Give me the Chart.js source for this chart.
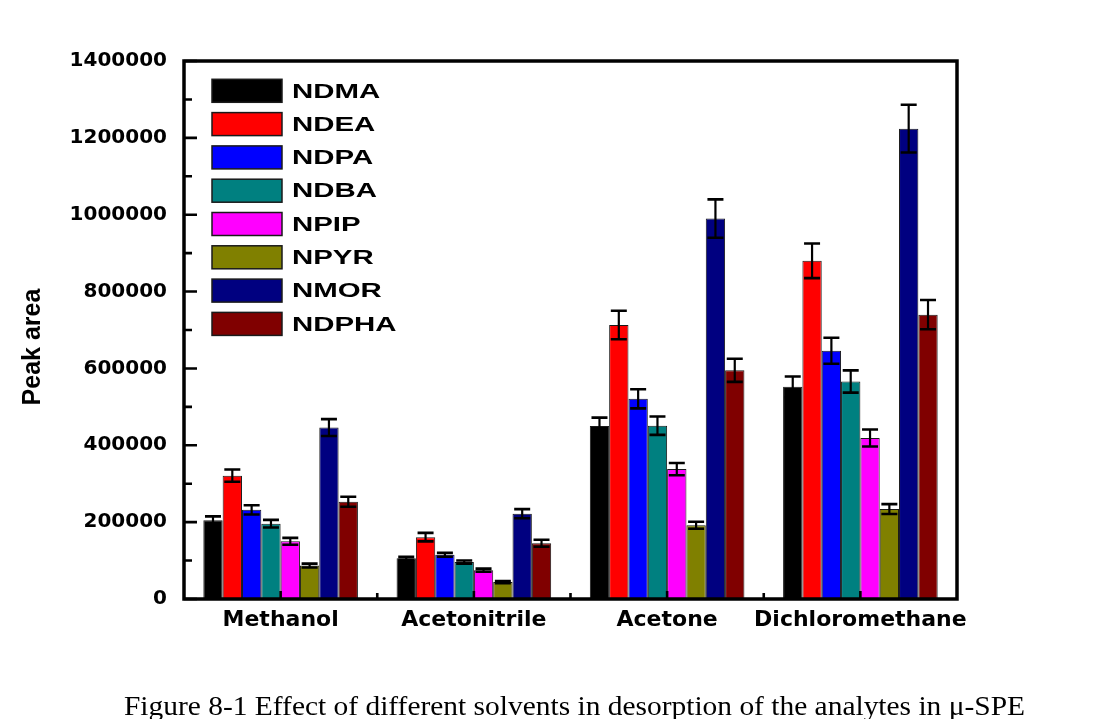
<!DOCTYPE html>
<html>
<head>
<meta charset="utf-8">
<script src="https://cdn.jsdelivr.net/npm/chart.js@4.4.1/dist/chart.umd.min.js"></script>
<style>
  html, body { margin: 0; padding: 0; background: #fff; }
  #wrap { position: relative; width: 1099px; height: 719px; overflow: hidden; background: #fff; }
  #c { position: absolute; left: 0; top: 0; }
  #caption {
    position: absolute; left: 124px; top: 692px;
    font-family: "Liberation Serif", "Times New Roman", serif;
    font-size: 28px; line-height: 28px; white-space: nowrap; color: #000;
    transform-origin: 0 0;
  }
</style>
</head>
<body>
<div id="wrap">
  <canvas id="c" width="1099" height="719"></canvas>
  <div id="caption">Figure 8-1 Effect of different solvents in desorption of the analytes in μ-SPE</div>
</div>
<script>
// Desorption solvents (x categories)
const solvents = ['Methanol', 'Acetonitrile', 'Acetone', 'Dichloromethane'];

// Mean peak areas per analyte, one value per solvent
const NDMA  = [205000, 106000, 450000, 552000];
const NDEA  = [321000, 161000, 713000, 880000];
const NDPA  = [232000, 115000, 521000, 646000];
const NDBA  = [196000,  96000, 451000, 566000];
const NPIP  = [150000,  75000, 338000, 419000];
const NPYR  = [ 87000,  44000, 192000, 234000];
const NMOR  = [446000, 222000, 990000, 1224000];
const NDPHA = [253000, 145000, 595000, 740000];

// Standard deviations (error bars)
const NDMA_sd  = [10000,  4000, 22000, 27000];
const NDEA_sd  = [16000, 11000, 37000, 45000];
const NDPA_sd  = [12000,  5000, 25000, 34000];
const NDBA_sd  = [10000,  4000, 24000, 29000];
const NPIP_sd  = [ 9000,  4000, 16000, 22000];
const NPYR_sd  = [ 5000,  3000,  9000, 13000];
const NMOR_sd  = [22000, 12000, 50000, 62000];
const NDPHA_sd = [13000,  9000, 30000, 38000];

// Y axis tick values
const yTicks = [0, 200000, 400000, 600000, 800000, 1000000, 1200000, 1400000];

const series = [
  { label: 'NDMA',  data: NDMA,  sd: NDMA_sd,  color: '#000000' },
  { label: 'NDEA',  data: NDEA,  sd: NDEA_sd,  color: '#FF0000' },
  { label: 'NDPA',  data: NDPA,  sd: NDPA_sd,  color: '#0000FF' },
  { label: 'NDBA',  data: NDBA,  sd: NDBA_sd,  color: '#008080' },
  { label: 'NPIP',  data: NPIP,  sd: NPIP_sd,  color: '#FF00FF' },
  { label: 'NPYR',  data: NPYR,  sd: NPYR_sd,  color: '#808000' },
  { label: 'NMOR',  data: NMOR,  sd: NMOR_sd,  color: '#000080' },
  { label: 'NDPHA', data: NDPHA, sd: NDPHA_sd, color: '#800000' }
];

// Error bars: mean ± sd, drawn on top of each bar
const errorBars = {
  id: 'errorBars',
  afterDatasetsDraw(chart) {
    const ctx = chart.ctx;
    const y = chart.scales.y;
    ctx.save();
    ctx.strokeStyle = '#000';
    chart.data.datasets.forEach((ds, i) => {
      const meta = chart.getDatasetMeta(i);
      meta.data.forEach((bar, j) => {
        const v = ds.data[j], e = ds.sd[j];
        const yt = y.getPixelForValue(v + e);
        const yb = y.getPixelForValue(v - e);
        const half = 8;
        ctx.lineWidth = 2.2;
        ctx.beginPath();
        ctx.moveTo(bar.x, yt); ctx.lineTo(bar.x, yb);
        ctx.stroke();
        ctx.lineWidth = 2.6;
        ctx.beginPath();
        ctx.moveTo(bar.x - half, yt); ctx.lineTo(bar.x + half, yt);
        ctx.moveTo(bar.x - half, yb); ctx.lineTo(bar.x + half, yb);
        ctx.stroke();
      });
    });
    ctx.restore();
  }
};

// Plot frame, inward tick marks, legend and y-axis title
const frameDecor = {
  id: 'frameDecor',
  afterDraw(chart) {
    const ctx = chart.ctx;
    const a = chart.chartArea;
    const { x, y } = chart.scales;
    ctx.save();
    ctx.strokeStyle = '#000';
    ctx.lineCap = 'butt';

    // y ticks: major at labelled values, minor halfway between
    ctx.lineWidth = 2.6;
    ctx.beginPath();
    yTicks.forEach((v, k) => {
      const py = y.getPixelForValue(v);
      ctx.moveTo(a.left, py); ctx.lineTo(a.left + 13, py);
      if (k < yTicks.length - 1) {
        const pm = y.getPixelForValue((v + yTicks[k + 1]) / 2);
        ctx.moveTo(a.left, pm); ctx.lineTo(a.left + 8, pm);
      }
    });
    ctx.stroke();

    // x ticks: at category centres and between groups
    ctx.lineWidth = 2.6;
    ctx.beginPath();
    solvents.forEach((s, i) => {
      const px = x.getPixelForValue(i);
      ctx.moveTo(px, a.bottom); ctx.lineTo(px, a.bottom - 8);
      if (i < solvents.length - 1) {
        const pm = (px + x.getPixelForValue(i + 1)) / 2;
        ctx.moveTo(pm, a.bottom); ctx.lineTo(pm, a.bottom - 6);
      }
    });
    ctx.stroke();

    // frame
    ctx.lineWidth = 3.5;
    ctx.strokeRect(a.left, a.top, a.right - a.left, a.bottom - a.top);

    // legend
    const lx = a.left + 28, ly = a.top + 18.3, bw = 70, bh = 23, pitch = 33.3;
    chart.data.datasets.forEach((ds, i) => {
      const top = ly + i * pitch;
      ctx.fillStyle = ds.backgroundColor;
      ctx.fillRect(lx, top, bw, bh);
      ctx.lineWidth = 1.5;
      ctx.strokeStyle = '#1a1a1a';
      ctx.strokeRect(lx, top, bw, bh);
      ctx.save();
      ctx.translate(lx + bw + 10, top + bh / 2 + 1);
      ctx.scale(1.4, 1);
      ctx.font = 'bold 21px "Liberation Sans", Arial, sans-serif';
      ctx.textBaseline = 'middle';
      ctx.textAlign = 'left';
      ctx.fillStyle = '#000';
      ctx.fillText(ds.label, 0, 0);
      ctx.restore();
    });

    // y-axis title
    ctx.save();
    ctx.translate(33, 347);
    ctx.rotate(-Math.PI / 2);
    ctx.font = 'bold 25px "Liberation Sans", Arial, sans-serif';
    ctx.textAlign = 'center';
    ctx.textBaseline = 'middle';
    ctx.fillStyle = '#000';
    ctx.fillText('Peak area', 0, 0);
    ctx.restore();

    ctx.restore();
  }
};

new Chart(document.getElementById('c'), {
  type: 'bar',
  data: {
    labels: solvents,
    datasets: series.map(s => ({
      label: s.label,
      data: s.data,
      sd: s.sd,
      backgroundColor: s.color,
      borderColor: '#1a1a1a',
      borderWidth: 1,
      categoryPercentage: 0.8,
      barPercentage: 1.0
    }))
  },
  options: {
    responsive: false,
    animation: false,
    devicePixelRatio: 1,
    layout: { padding: { left: 0, top: 61, right: 142, bottom: 0 } },
    plugins: {
      legend: { display: false },
      tooltip: { enabled: false }
    },
    scales: {
      x: {
        grid: { display: false, drawTicks: false },
        border: { display: false },
        ticks: {
          color: '#000',
          padding: 8,
          maxRotation: 0,
          autoSkip: false,
          font: { family: '"DejaVu Sans", sans-serif', weight: 'bold', size: 22 }
        },
        afterFit(s) { s.height = 120; }
      },
      y: {
        min: 0,
        max: 1400000,
        grid: { display: false, drawTicks: false },
        border: { display: false },
        ticks: {
          color: '#000',
          padding: 17,
          font: { family: '"DejaVu Sans", sans-serif', weight: 'bold', size: 20 },
          callback: v => String(v)
        },
        afterBuildTicks(s) { s.ticks = yTicks.map(v => ({ value: v })); },
        afterFit(s) { s.width = 184; }
      }
    }
  },
  plugins: [errorBars, frameDecor]
});

// stretch the caption line to its full printed width
const cap = document.getElementById('caption');
cap.style.transform = 'scaleX(' + (901 / cap.getBoundingClientRect().width) + ')';
</script>
</body>
</html>
